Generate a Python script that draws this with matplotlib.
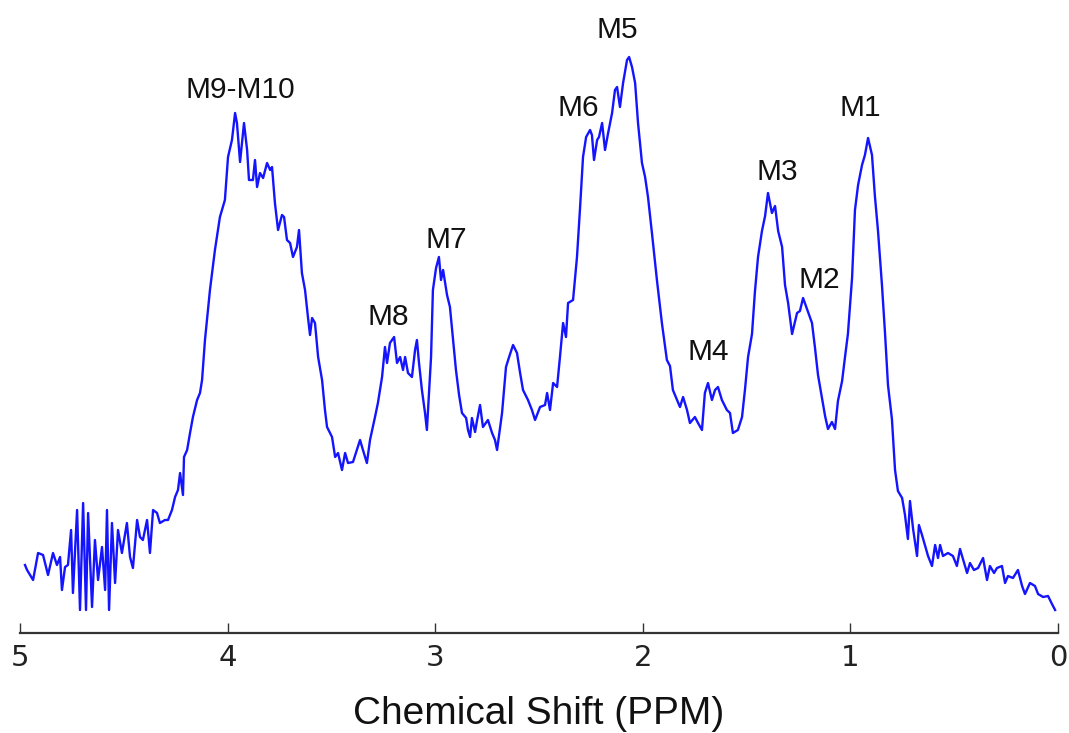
import matplotlib.pyplot as plt
import numpy as np

# DATOS DEL ESPECTRO (intensidad en unidades arbitrarias)
desplazamiento_ppm = [
    4.976, 4.966, 4.937, 4.913, 4.889, 4.865, 4.841, 4.822, 4.807, 4.798,
    4.783, 4.769, 4.754, 4.745, 4.725, 4.711, 4.696, 4.682, 4.672, 4.653,
    4.639, 4.624, 4.605, 4.590, 4.581, 4.571, 4.557, 4.542, 4.528, 4.509,
    4.485, 4.470, 4.456, 4.436, 4.422, 4.408, 4.388, 4.374, 4.359, 4.340,
    4.326, 4.302, 4.287, 4.268, 4.253, 4.239, 4.229, 4.215, 4.210, 4.195,
    4.181, 4.167, 4.147, 4.133, 4.123, 4.109, 4.085, 4.061, 4.037, 4.013,
    3.998, 3.979, 3.964, 3.955, 3.940, 3.921, 3.906, 3.897, 3.878, 3.868,
    3.858, 3.844, 3.829, 3.810, 3.795, 3.786, 3.772, 3.757, 3.738, 3.728,
    3.714, 3.699, 3.685, 3.666, 3.656, 3.642, 3.627, 3.613, 3.603, 3.593,
    3.579, 3.564, 3.545, 3.531, 3.521, 3.497, 3.482, 3.468, 3.449, 3.434,
    3.420, 3.396, 3.362, 3.348, 3.329, 3.314, 3.290, 3.276, 3.256, 3.242,
    3.232, 3.218, 3.198, 3.184, 3.169, 3.155, 3.145, 3.131, 3.112, 3.097,
    3.088, 3.078, 3.064, 3.049, 3.040, 3.020, 3.011, 2.996, 2.982, 2.972,
    2.962, 2.943, 2.929, 2.914, 2.900, 2.885, 2.871, 2.851, 2.842, 2.832,
    2.823, 2.808, 2.798, 2.784, 2.770, 2.746, 2.726, 2.712, 2.702, 2.678,
    2.659, 2.644, 2.625, 2.606, 2.591, 2.577, 2.553, 2.534, 2.519, 2.495,
    2.471, 2.461, 2.447, 2.432, 2.413, 2.399, 2.384, 2.370, 2.360, 2.336,
    2.317, 2.302, 2.288, 2.273, 2.254, 2.245, 2.235, 2.220, 2.211, 2.196,
    2.182, 2.167, 2.148, 2.134, 2.124, 2.110, 2.095, 2.076, 2.066, 2.052,
    2.037, 2.023, 2.004, 1.989, 1.975, 1.956, 1.932, 1.908, 1.884, 1.869,
    1.855, 1.835, 1.821, 1.806, 1.787, 1.773, 1.749, 1.734, 1.715, 1.701,
    1.686, 1.667, 1.652, 1.638, 1.619, 1.595, 1.580, 1.566, 1.542, 1.522,
    1.508, 1.493, 1.474, 1.460, 1.445, 1.426, 1.411, 1.397, 1.378, 1.363,
    1.348, 1.329, 1.315, 1.300, 1.281, 1.257, 1.243, 1.228, 1.209, 1.185,
    1.171, 1.156, 1.137, 1.122, 1.108, 1.089, 1.074, 1.060, 1.040, 1.026,
    1.012, 0.992, 0.978, 0.963, 0.944, 0.930, 0.915, 0.896, 0.882, 0.867,
    0.848, 0.833, 0.819, 0.800, 0.785, 0.771, 0.751, 0.737, 0.723, 0.713,
    0.698, 0.679, 0.670, 0.655, 0.641, 0.626, 0.607, 0.592, 0.578, 0.568,
    0.554, 0.530, 0.506, 0.487, 0.472, 0.458, 0.438, 0.424, 0.405, 0.385,
    0.361, 0.342, 0.328, 0.308, 0.294, 0.270, 0.255, 0.241, 0.217, 0.193,
    0.173, 0.159, 0.135, 0.111, 0.096, 0.072, 0.048, 0.029, 0.014,
]

intensidad = [
    68, 63, 53, 80, 78, 58, 80, 68, 76, 43,
    66, 68, 103, 40, 123, 23, 130, 23, 120, 26,
    93, 53, 86, 43, 123, 23, 110, 50, 103, 80,
    110, 76, 65, 113, 96, 93, 113, 80, 123, 120,
    110, 113, 113, 123, 136, 143, 160, 138, 176, 183,
    200, 216, 233, 240, 253, 293, 343, 383, 416, 433,
    476, 493, 520, 510, 471, 510, 483, 453, 453, 473,
    446, 460, 455, 470, 463, 466, 430, 403, 418, 416,
    393, 390, 376, 386, 403, 360, 343, 316, 298, 315,
    310, 276, 253, 223, 206, 196, 176, 180, 163, 180,
    170, 171, 193, 183, 170, 193, 216, 230, 256, 286,
    270, 290, 296, 270, 276, 263, 276, 260, 256, 283,
    293, 270, 243, 220, 203, 276, 343, 365, 376, 353,
    363, 338, 326, 293, 263, 238, 220, 215, 203, 196,
    215, 201, 213, 228, 206, 213, 200, 193, 183, 220,
    266, 276, 288, 280, 260, 243, 233, 223, 213, 226,
    228, 240, 223, 250, 246, 276, 310, 296, 330, 333,
    376, 426, 476, 496, 503, 498, 473, 493, 496, 510,
    483, 500, 520, 543, 546, 526, 550, 573, 576, 566,
    550, 510, 470, 456, 436, 400, 353, 310, 273, 267,
    243, 233, 226, 236, 223, 210, 216, 210, 203, 240,
    250, 233, 243, 246, 233, 223, 220, 200, 203, 216,
    243, 276, 299, 341, 376, 402, 417, 440, 420, 427,
    402, 386, 348, 330, 299, 320, 322, 335, 324, 310,
    286, 258, 235, 217, 204, 211, 204, 232, 252, 276,
    299, 355, 423, 448, 468, 478, 495, 478, 437, 402,
    348, 299, 248, 214, 163, 142, 135, 118, 94, 132,
    104, 77, 108, 98, 88, 77, 67, 88, 75, 88,
    77, 80, 77, 67, 84, 74, 60, 70, 63, 65,
    75, 53, 67, 60, 65, 67, 50, 57, 55, 63,
    47, 39, 50, 47, 39, 36, 37, 29, 23,
]

# Etiquetas de los picos y su posición (ppm, intensidad)
etiquetas_picos = ['M9-M10', 'M8', 'M7', 'M6', 'M5', 'M4', 'M3', 'M2', 'M1']
ppm_etiquetas = [3.940, 3.227, 2.948, 2.312, 2.124, 1.686, 1.354, 1.151, 0.954]
altura_etiquetas = [543, 316, 393, 525, 603, 281, 461, 353, 525]

ticks_ppm = [5, 4, 3, 2, 1, 0]

# CREAR EL GRÁFICO
fig = plt.figure(figsize=(10.69, 7.33), dpi=100)
ax = fig.add_axes([20 / 1069, 100 / 733, 1038 / 1069, 633 / 733])

ax.plot(desplazamiento_ppm, intensidad, color='#1414ff', linewidth=1.7)

for texto, xp, yp in zip(etiquetas_picos, ppm_etiquetas, altura_etiquetas):
    ax.text(xp, yp, texto, ha='center', va='center', fontsize=21.5,
            family='Liberation Sans', color='#111111')

ax.set_xlim(5, 0)
ax.set_ylim(0, 633)

# Solo el eje inferior, como en la figura original
for lado in ['top', 'left', 'right']:
    ax.spines[lado].set_visible(False)
ax.spines['bottom'].set_linewidth(1.6)
ax.spines['bottom'].set_color('#333333')

ax.set_yticks([])
ax.set_xticks(ticks_ppm)
ax.set_xticklabels([str(t) for t in ticks_ppm], fontsize=21, family='DejaVu Sans')
ax.tick_params(axis='x', direction='in', length=7, width=1, color='#333333',
               pad=8, labelcolor='#222222')

ax.set_xlabel('Chemical Shift (PPM)', fontsize=28, family='Liberation Sans',
              labelpad=17, color='#111111')

plt.savefig('out.png', dpi=100)
print("Gráfico guardado como: out.png")
